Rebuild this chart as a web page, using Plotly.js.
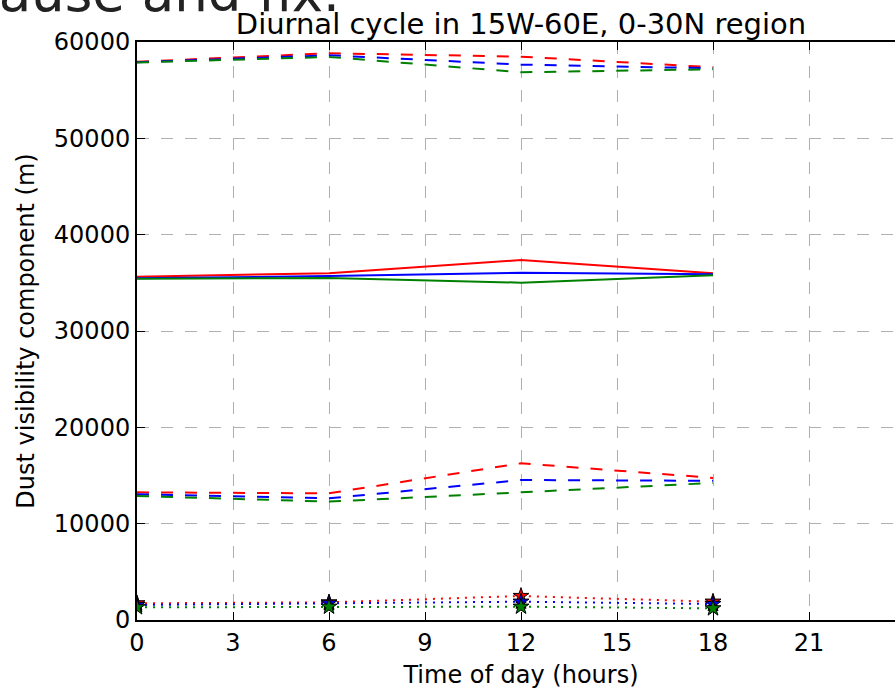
<!DOCTYPE html>
<html>
<head>
<meta charset="utf-8">
<script src="https://cdn.plot.ly/plotly-3.0.1.min.js"></script>
<style>
html, body { margin:0; padding:0; overflow:hidden; background:#fff; }
#chart { width:920px; height:690px; }
</style>
</head>
<body>
<div id="chart"></div>
<script>
// Data
var hours = [0, 6, 12, 18];

var topRed   = [57950, 58830, 58480, 57380];
var topBlue  = [57900, 58620, 57650, 57270];
var topGreen = [57870, 58450, 56860, 57170];

var midRed   = [35640, 35990, 37370, 35990];
var midBlue  = [35470, 35700, 36050, 35890];
var midGreen = [35430, 35500, 35020, 35780];

var lowRed   = [13250, 13150, 16270, 14750];
var lowBlue  = [13050, 12630, 14530, 14450];
var lowGreen = [12870, 12290, 13250, 14230];

var dotRed   = [1730, 1830, 2490, 1900];
var dotBlue  = [1560, 1730, 1900, 1660];
var dotGreen = [1320, 1380, 1380, 1210];

var xTicks = [0, 3, 6, 9, 12, 15, 18, 21];
var yTicks = [0, 10000, 20000, 30000, 40000, 50000, 60000];

var titleText = 'Diurnal cycle in 15W-60E, 0-30N region';
var xTitle = 'Time of day (hours)';
var yTitle = 'Dust visibility component (m)';
var topText = 'pause and fix.';

var RED = '#ff0000', BLUE = '#0000ff', GREEN = '#008000';
var DASH = '12px,12px', DOT = '2px,6px';

function line(y, color, dash) {
  return {x: hours, y: y, mode: 'lines', type: 'scatter',
          line: {color: color, width: 2, dash: dash}, hoverinfo: 'skip'};
}
function starLine(y, color) {
  return {x: hours, y: y, mode: 'lines+markers', type: 'scatter',
          line: {color: color, width: 2, dash: DOT},
          marker: {symbol: 'star', size: 12, color: color, line: {color: '#000', width: 1}},
          hoverinfo: 'skip'};
}

var traces = [
  line(topRed, RED, DASH), line(topBlue, BLUE, DASH), line(topGreen, GREEN, DASH),
  line(midRed, RED, 'solid'), line(midBlue, BLUE, 'solid'), line(midGreen, GREEN, 'solid'),
  line(lowRed, RED, DASH), line(lowBlue, BLUE, DASH), line(lowGreen, GREEN, DASH),
  starLine(dotRed, RED), starLine(dotBlue, BLUE), starLine(dotGreen, GREEN)
];

var FONT = 'DejaVu Sans, sans-serif';
var layout = {
  width: 920, height: 690,
  margin: {l: 137, r: 15, t: 42, b: 70, pad: 0},
  paper_bgcolor: '#fff', plot_bgcolor: '#fff',
  showlegend: false,
  font: {family: FONT, size: 24, color: '#000'},
  title: {text: titleText, font: {family: FONT, size: 29, color: '#000'},
          x: 0.5, xref: 'paper', y: 1, yref: 'paper', yanchor: 'bottom', pad: {b: 8}},
  xaxis: {
    range: [0, 24], tickvals: xTicks, ticktext: xTicks.map(String),
    ticks: 'inside', ticklen: 8, tickwidth: 1, tickcolor: '#000',
    showline: true, linecolor: '#000', linewidth: 2, mirror: 'ticks',
    showgrid: true, gridcolor: '#b0b0b0', gridwidth: 1, griddash: DASH,
    zeroline: false, tickfont: {family: FONT, size: 24, color: '#000'},
    title: {text: xTitle, font: {family: FONT, size: 24, color: '#000'}, standoff: 10},
    automargin: false
  },
  yaxis: {
    range: [0, 60000], tickvals: yTicks, ticktext: yTicks.map(String),
    ticks: 'inside', ticklen: 8, tickwidth: 1, tickcolor: '#000',
    showline: true, linecolor: '#000', linewidth: 2, mirror: 'ticks',
    showgrid: true, gridcolor: '#b0b0b0', gridwidth: 1, griddash: DASH,
    zeroline: false, tickfont: {family: FONT, size: 24, color: '#000'},
    title: {text: yTitle, font: {family: FONT, size: 24, color: '#000'}, standoff: 12},
    automargin: false
  },
  annotations: [{
    text: topText, xref: 'paper', yref: 'paper', showarrow: false,
    x: (342 - 137) / 768, xanchor: 'right',
    y: 1 + (42 + 7) / 578, yanchor: 'middle',
    font: {family: FONT, size: 53, color: '#222'}
  }]
};

Plotly.newPlot('chart', traces, layout, {staticPlot: true, displayModeBar: false});
</script>
</body>
</html>
